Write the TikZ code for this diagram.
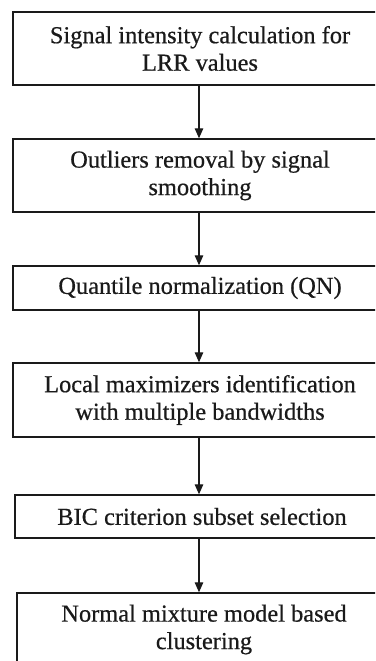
\documentclass[tikz,border=0pt]{standalone}
\usepackage{fontspec}
\setmainfont{Liberation Serif}[FakeBold=0.6]
\usetikzlibrary{arrows.meta}
\definecolor{inkc}{HTML}{1A1A1A}
\begin{document}
\begin{tikzpicture}[x=1pt,y=1pt,
  stepbox/.style={draw=inkc, line width=1.4pt, rectangle, minimum width=374pt,
    inner sep=0pt, align=center, text=inkc,
    font=\fontsize{24.4}{27.5}\selectfont},
  arr/.style={draw=inkc, line width=1.3pt, -{Triangle[length=10pt,width=8.5pt]}}]
\useasboundingbox (0,0) rectangle (375,-661);
\clip (0,0) rectangle (375,-661);
\node[stepbox, minimum height=73pt] (b1) at (200,-48.5) {Signal intensity calculation for\\LRR values};
\node[stepbox, minimum height=73pt] (b2) at (200,-175.5) {Outliers removal by signal\\smoothing};
\node[stepbox, minimum height=44pt] (b3) at (200,-288) {Quantile normalization (QN)};
\node[stepbox, minimum height=74pt] (b4) at (200,-400) {Local maximizers identification\\with multiple bandwidths};
\node[stepbox, minimum height=43pt] (b5) at (202,-516.5) {BIC criterion subset selection};
\node[stepbox, minimum height=73pt] (b6) at (204,-629.5) {Normal mixture model based\\clustering};
\coordinate (ax) at (199,0);
\draw[arr] (b1.south -| ax) -- (b2.north -| ax);
\draw[arr] (b2.south -| ax) -- (b3.north -| ax);
\draw[arr] (b3.south -| ax) -- (b4.north -| ax);
\draw[arr] (b4.south -| ax) -- (b5.north -| ax);
\draw[arr] (b5.south -| ax) -- (b6.north -| ax);
\end{tikzpicture}
\end{document}
